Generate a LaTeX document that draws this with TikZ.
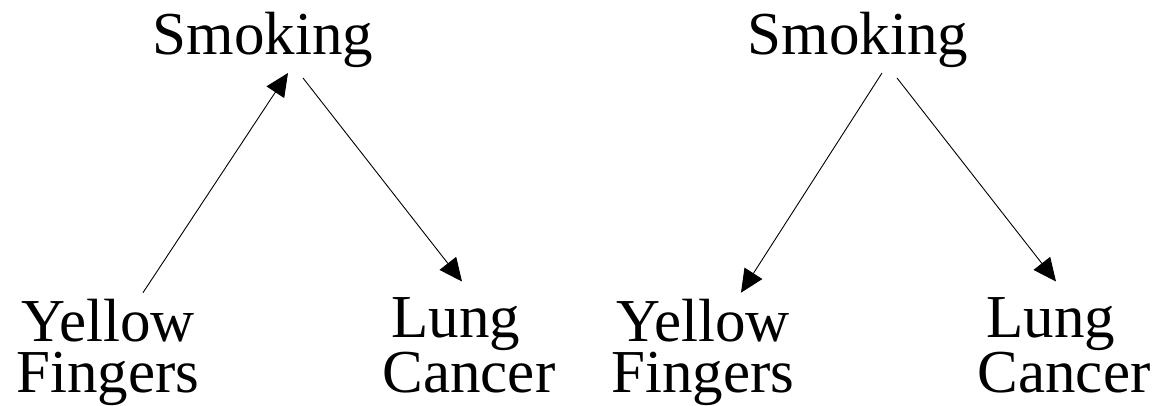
\documentclass[tikz,border=0pt]{standalone}
\usepackage{fontspec}
\setmainfont{Liberation Serif}
\usepackage{tikz}
\usetikzlibrary{calc, arrows.meta}

\begin{document}
\begin{tikzpicture}[
        x=1pt, y=-1pt,
        font=\fontsize{61}{51}\selectfont,
        var/.style={inner sep=0pt, outer sep=0pt, anchor=base},
        arr/.style={-{Triangle[length=23pt, width=21pt]}, line width=0.9pt}
    ]
    \useasboundingbox (0,0) rectangle (1165,406);

    % left graph
    \node[var] (smkA) at (263,55) {Smoking};
    \node[var, align=center] (yfA) at (108,392) {Yellow\\Fingers};
    \node[var, align=left] (lcA) at (469,392) {\hspace*{9pt}Lung\\Cancer};

    % right graph
    \node[var] (smkB) at (858,55) {Smoking};
    \node[var, align=center] (yfB) at (703,392) {Yellow\\Fingers};
    \node[var, align=left] (lcB) at (1064,392) {\hspace*{9pt}Lung\\Cancer};

    \draw[arr] ($(yfA.north)+(35,-6)$) -- ($(smkA.base)+(25,18)$);
    \draw[arr] ($(smkA.base)+(40,23)$) -- ($(lcA.north)+(-7,-16)$);
    \draw[arr] ($(smkB.base)+(24,18)$) -- ($(yfB.north)+(38,-6)$);
    \draw[arr] ($(smkB.base)+(39,23)$) -- ($(lcB.north)+(-8,-16)$);
\end{tikzpicture}
\end{document}
